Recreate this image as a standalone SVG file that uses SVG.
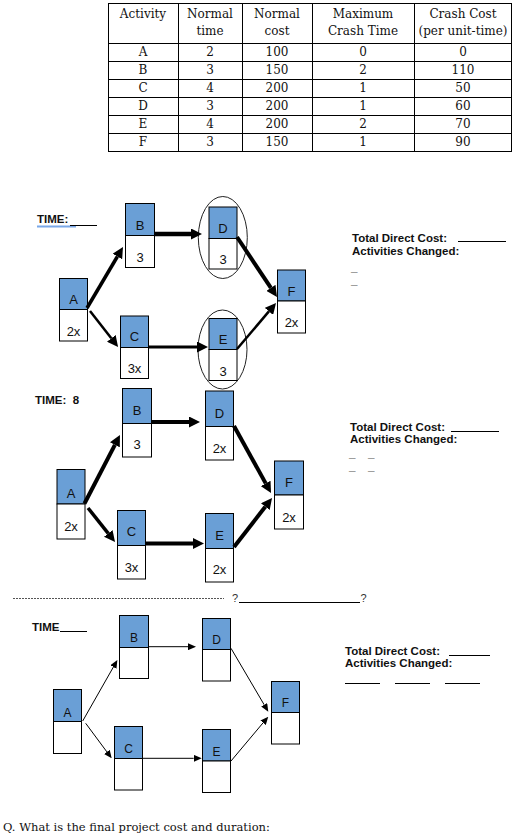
<svg xmlns="http://www.w3.org/2000/svg" width="518" height="838" viewBox="0 0 518 838">
<style>
.bg{fill:#ffffff}
.tl{stroke:#000;stroke-width:1;fill:none}
.ser{font-family:"DejaVu Serif","Liberation Serif",serif;font-size:12px;fill:#111;text-anchor:middle}
.q{font-family:"DejaVu Serif","Liberation Serif",serif;font-size:11.5px;fill:#111}
.top{fill:#6a9fd6;stroke:#000;stroke-width:1}
.bot{fill:#fff;stroke:#000;stroke-width:1}
.nl{font-family:"Liberation Sans",Arial,sans-serif;font-size:13px;fill:#111;text-anchor:middle}
.nl3{font-family:"Liberation Sans",Arial,sans-serif;font-size:12px;fill:#111;text-anchor:middle}
.lab{font-family:"Liberation Sans",Arial,sans-serif;font-size:11.5px;font-weight:bold;fill:#111}
.qm{font-family:"Liberation Sans",Arial,sans-serif;font-size:11px;fill:#333}
.blank{stroke:#000;stroke-width:1}
.thick{stroke:#000;fill:none}
.thin{stroke:#000;stroke-width:1;fill:none}
.ell{fill:none;stroke:#222;stroke-width:1}
</style>
<defs>
<marker id="ah" markerUnits="userSpaceOnUse" viewBox="0 0 11 11" markerWidth="11" markerHeight="11" refX="0" refY="5.5" orient="auto">
<path d="M0,0 L11,5.5 L0,11 z" fill="#000"/>
</marker>
<marker id="ahs" markerUnits="userSpaceOnUse" viewBox="0 0 8 7" markerWidth="8" markerHeight="7" refX="0" refY="3.5" orient="auto">
<path d="M0,0 L8,3.5 L0,7 z" fill="#000"/>
</marker>
</defs>
<rect class="bg" x="0" y="0" width="518" height="838"/>

<!-- Table -->
<g id="table">
<rect class="tl" x="108.5" y="3.5" width="403" height="148"/>
<line class="tl" x1="178.5" y1="3.5" x2="178.5" y2="151.5"/>
<line class="tl" x1="242.5" y1="3.5" x2="242.5" y2="151.5"/>
<line class="tl" x1="312.5" y1="3.5" x2="312.5" y2="151.5"/>
<line class="tl" x1="414.5" y1="3.5" x2="414.5" y2="151.5"/>
<line class="tl" x1="108.5" y1="43.5" x2="511.5" y2="43.5"/>
<line class="tl" x1="108.5" y1="61.5" x2="511.5" y2="61.5"/>
<line class="tl" x1="108.5" y1="79.5" x2="511.5" y2="79.5"/>
<line class="tl" x1="108.5" y1="97.5" x2="511.5" y2="97.5"/>
<line class="tl" x1="108.5" y1="115.5" x2="511.5" y2="115.5"/>
<line class="tl" x1="108.5" y1="133.5" x2="511.5" y2="133.5"/>
<text class="ser" x="143" y="18">Activity</text>
<text class="ser" x="210" y="18">Normal</text>
<text class="ser" x="210" y="35">time</text>
<text class="ser" x="277" y="18">Normal</text>
<text class="ser" x="277" y="35">cost</text>
<text class="ser" x="363" y="18">Maximum</text>
<text class="ser" x="363" y="35">Crash Time</text>
<text class="ser" x="463" y="18">Crash Cost</text>
<text class="ser" x="463" y="35">(per unit-time)</text>
<text class="ser" x="143" y="56">A</text><text class="ser" x="210" y="56">2</text><text class="ser" x="277" y="56">100</text><text class="ser" x="363" y="56">0</text><text class="ser" x="463" y="56">0</text>
<text class="ser" x="143" y="74">B</text><text class="ser" x="210" y="74">3</text><text class="ser" x="277" y="74">150</text><text class="ser" x="363" y="74">2</text><text class="ser" x="463" y="74">110</text>
<text class="ser" x="143" y="92">C</text><text class="ser" x="210" y="92">4</text><text class="ser" x="277" y="92">200</text><text class="ser" x="363" y="92">1</text><text class="ser" x="463" y="92">50</text>
<text class="ser" x="143" y="110">D</text><text class="ser" x="210" y="110">3</text><text class="ser" x="277" y="110">200</text><text class="ser" x="363" y="110">1</text><text class="ser" x="463" y="110">60</text>
<text class="ser" x="143" y="128">E</text><text class="ser" x="210" y="128">4</text><text class="ser" x="277" y="128">200</text><text class="ser" x="363" y="128">2</text><text class="ser" x="463" y="128">70</text>
<text class="ser" x="143" y="146">F</text><text class="ser" x="210" y="146">3</text><text class="ser" x="277" y="146">150</text><text class="ser" x="363" y="146">1</text><text class="ser" x="463" y="146">90</text>
</g>

<!-- Diagram 1 -->
<g id="d1-labels">
<text class="lab" x="37" y="223">TIME:</text>
<line x1="37" y1="226.5" x2="76" y2="226.5" stroke="#7aa8e8" stroke-width="2"/>
<line class="blank" x1="70" y1="225.5" x2="97" y2="225.5"/>
<text class="lab" x="352" y="241.5">Total Direct Cost:</text>
<line class="blank" x1="458" y1="241.5" x2="506" y2="241.5"/>
<text class="lab" x="352" y="254.5">Activities Changed:</text>
<text class="lab" x="351" y="271">_</text>
<text class="lab" x="351" y="283.5">_</text>
</g>
<g id="d1-ellipses">
<ellipse class="ell" cx="222.8" cy="237.5" rx="24.5" ry="41"/>
<ellipse class="ell" cx="222.5" cy="349.5" rx="24.5" ry="39.5"/>
</g>
<g id="d1-A"><rect class="top" x="59.5" y="278.5" width="28" height="31"/><rect class="bot" x="59.5" y="309.5" width="28" height="31.5"/><text class="nl" x="73.5" y="304">A</text><text class="nl" x="73.5" y="335.5">2x</text></g>
<g id="d1-B"><rect class="top" x="125.5" y="203.5" width="29" height="32"/><rect class="bot" x="125.5" y="235.5" width="29" height="32"/><text class="nl" x="140" y="229.5">B</text><text class="nl" x="140" y="261.5">3</text></g>
<g id="d1-C"><rect class="top" x="120.5" y="316" width="28" height="31.5"/><rect class="bot" x="120.5" y="347.5" width="28" height="31"/><text class="nl" x="134.5" y="341">C</text><text class="nl" x="134.5" y="372.5">3x</text></g>
<g id="d1-D"><rect class="top" x="209" y="207" width="28" height="31.5"/><rect class="bot" x="209" y="238.5" width="28" height="30.5"/><text class="nl" x="223" y="232.5">D</text><text class="nl" x="223" y="264">3</text></g>
<g id="d1-E"><rect class="top" x="209" y="318.5" width="28" height="31"/><rect class="bot" x="209" y="349.5" width="28" height="31"/><text class="nl" x="223" y="344">E</text><text class="nl" x="223" y="375.5">3</text></g>
<g id="d1-F"><rect class="top" x="277.5" y="270" width="28" height="31"/><rect class="bot" x="277.5" y="301" width="28" height="32"/><text class="nl" x="291.5" y="295.5">F</text><text class="nl" x="291.5" y="326.5">2x</text></g>
<g id="d1-connectors">
<line class="thick" stroke-width="3.5" x1="87" y1="308" x2="117.4" y2="256.5" marker-end="url(#ah)"/>
<line class="thick" stroke-width="2.5" x1="90" y1="311" x2="111.3" y2="338.3" marker-end="url(#ah)"/>
<line class="thick" stroke-width="4.5" x1="155" y1="234" x2="191" y2="234" marker-end="url(#ah)"/>
<line class="thick" stroke-width="3" x1="149" y1="347" x2="197" y2="347" marker-end="url(#ah)"/>
<line class="thick" stroke-width="4" x1="237" y1="237" x2="270.9" y2="287.9" marker-end="url(#ah)"/>
<line class="thick" stroke-width="2.5" x1="237" y1="349" x2="268.9" y2="311.4" marker-end="url(#ah)"/>
</g>

<!-- Diagram 2 -->
<g id="d2-labels">
<text class="lab" x="35" y="403.5" xml:space="preserve">TIME:  8</text>
<text class="lab" x="350" y="431">Total Direct Cost:</text>
<line class="blank" x1="451" y1="431.5" x2="499" y2="431.5"/>
<text class="lab" x="350" y="442.5">Activities Changed:</text>
<text class="lab" x="349" y="456.5">_</text><text class="lab" x="368" y="456.5">_</text>
<text class="lab" x="349" y="470">_</text><text class="lab" x="368" y="470">_</text>
</g>
<g id="d2-A"><rect class="top" x="57" y="469.5" width="28" height="34.5"/><rect class="bot" x="57" y="504" width="28" height="35"/><text class="nl" x="71" y="497.5">A</text><text class="nl" x="71" y="531">2x</text></g>
<g id="d2-B"><rect class="top" x="122.5" y="388.5" width="29" height="35"/><rect class="bot" x="122.5" y="423.5" width="29" height="33.5"/><text class="nl" x="137" y="415">B</text><text class="nl" x="137" y="449">3</text></g>
<g id="d2-C"><rect class="top" x="117.5" y="510.5" width="28" height="35"/><rect class="bot" x="117.5" y="545.5" width="28" height="33.5"/><text class="nl" x="131.5" y="536">C</text><text class="nl" x="131.5" y="571.5">3x</text></g>
<g id="d2-D"><rect class="top" x="205.5" y="391" width="28" height="35.5"/><rect class="bot" x="205.5" y="426.5" width="28" height="33.5"/><text class="nl" x="219.5" y="417.5">D</text><text class="nl" x="219.5" y="452.5">2x</text></g>
<g id="d2-E"><rect class="top" x="205.5" y="513.5" width="28" height="35"/><rect class="bot" x="205.5" y="548.5" width="28" height="33.5"/><text class="nl" x="219.5" y="540">E</text><text class="nl" x="219.5" y="574">2x</text></g>
<g id="d2-F"><rect class="top" x="274.5" y="461" width="29" height="34"/><rect class="bot" x="274.5" y="495" width="29" height="34"/><text class="nl" x="289" y="486.5">F</text><text class="nl" x="289" y="521.5">2x</text></g>
<g id="d2-connectors">
<line class="thick" stroke-width="4" x1="84.5" y1="503.5" x2="114.9" y2="444.8" marker-end="url(#ah)"/>
<line class="thick" stroke-width="3.5" x1="88" y1="508" x2="108.2" y2="533.4" marker-end="url(#ah)"/>
<line class="thick" stroke-width="4" x1="151.5" y1="422" x2="189" y2="422" marker-end="url(#ah)"/>
<line class="thick" stroke-width="4" x1="145.5" y1="543.5" x2="193" y2="543.5" marker-end="url(#ah)"/>
<line class="thick" stroke-width="4" x1="234" y1="426" x2="265.7" y2="483.4" marker-end="url(#ah)"/>
<line class="thick" stroke-width="4" x1="234" y1="547" x2="265.3" y2="506.7" marker-end="url(#ah)"/>
</g>

<!-- Separator -->
<g id="separator">
<line x1="13" y1="598.5" x2="224" y2="598.5" stroke="#555" stroke-width="1" stroke-dasharray="2,1"/>
<text class="qm" x="232" y="602">?</text>
<line class="blank" x1="239" y1="602.5" x2="360" y2="602.5"/>
<text class="qm" x="360.5" y="602">?</text>
</g>

<!-- Diagram 3 -->
<g id="d3-labels">
<text class="lab" x="32" y="631">TIME</text>
<line class="blank" x1="60" y1="631.5" x2="87" y2="631.5"/>
<text class="lab" x="345" y="655">Total Direct Cost:</text>
<line class="blank" x1="449" y1="655.5" x2="490" y2="655.5"/>
<text class="lab" x="345" y="666.5">Activities Changed:</text>
<line class="blank" x1="345" y1="683.5" x2="380" y2="683.5"/>
<line class="blank" x1="395" y1="683.5" x2="430" y2="683.5"/>
<line class="blank" x1="445" y1="683.5" x2="480" y2="683.5"/>
</g>
<g id="d3-A"><rect class="top" x="53.5" y="689.5" width="28" height="32"/><rect class="bot" x="53.5" y="721.5" width="28" height="32"/><text class="nl3" x="67.5" y="716.5">A</text></g>
<g id="d3-B"><rect class="top" x="119.5" y="615.5" width="29" height="32"/><rect class="bot" x="119.5" y="647.5" width="29" height="31"/><text class="nl3" x="134" y="641.5">B</text></g>
<g id="d3-C"><rect class="top" x="114.5" y="726.5" width="28" height="32"/><rect class="bot" x="114.5" y="758.5" width="28" height="31.5"/><text class="nl3" x="128.5" y="752.5">C</text></g>
<g id="d3-D"><rect class="top" x="202.5" y="618.5" width="28" height="31"/><rect class="bot" x="202.5" y="649.5" width="28" height="31.5"/><text class="nl3" x="216.5" y="644">D</text></g>
<g id="d3-E"><rect class="top" x="202.5" y="729.5" width="28" height="31.5"/><rect class="bot" x="202.5" y="761" width="28" height="31.5"/><text class="nl3" x="216.5" y="756">E</text></g>
<g id="d3-F"><rect class="top" x="271.5" y="681.5" width="28" height="31"/><rect class="bot" x="271.5" y="712.5" width="28" height="31.5"/><text class="nl3" x="285.5" y="706.5">F</text></g>
<g id="d3-connectors">
<line class="thin" x1="82.7" y1="721" x2="113.4" y2="667" marker-end="url(#ahs)"/>
<line class="thin" x1="85.7" y1="723.3" x2="106.9" y2="751.9" marker-end="url(#ahs)"/>
<line class="thin" x1="148.5" y1="646.7" x2="188" y2="646.7" marker-end="url(#ahs)"/>
<line class="thin" x1="142.5" y1="758.3" x2="193.7" y2="758.3" marker-end="url(#ahs)"/>
<line class="thin" x1="231" y1="648.3" x2="264.2" y2="704.8" marker-end="url(#ahs)"/>
<line class="thin" x1="231" y1="761" x2="263.1" y2="722.8" marker-end="url(#ahs)"/>
</g>

<text class="q" x="3" y="831">Q. What is the final project cost and duration:</text>
</svg>
